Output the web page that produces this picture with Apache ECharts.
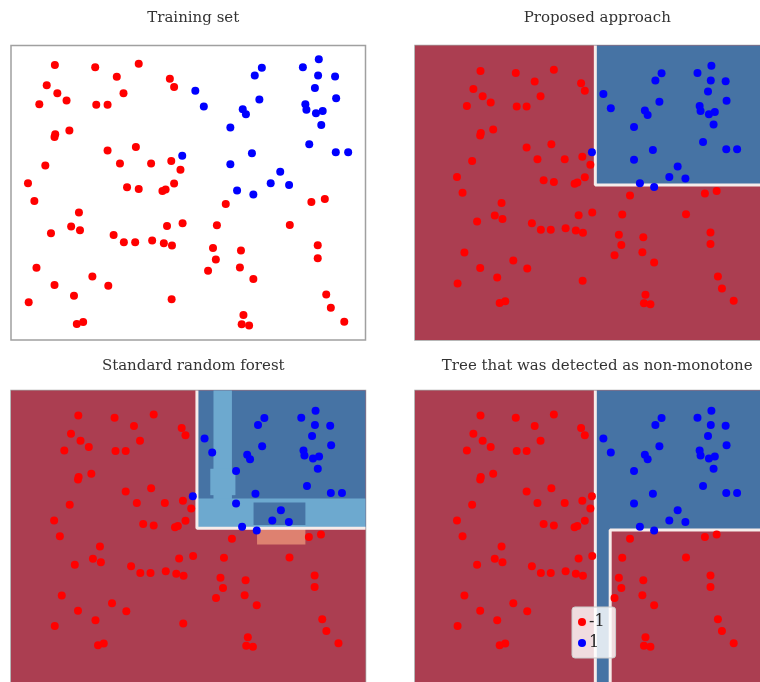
<!DOCTYPE html>
<html>
<head>
<meta charset="utf-8">
<script src="https://cdn.jsdelivr.net/npm/echarts@6/dist/echarts.min.js"></script>
<style>
  html, body { margin: 0; padding: 0; background: #ffffff; }
  #chart { width: 760px; height: 682px; }
</style>
</head>
<body>
<div id="chart"></div>
<script>
// Panel titles and class labels
const titles = ['Training set', 'Proposed approach', 'Standard random forest', 'Tree that was detected as non-monotone'];
const classNames = ['-1', '1'];

// Training samples of class -1
const negPoints = [
  [1.24, 9.32], [2.38, 9.24], [3.61, 9.36], [2.99, 8.92], [4.49, 8.85], [4.61, 8.57],
  [1.01, 8.63], [1.31, 8.36], [1.57, 8.12], [0.80, 7.99], [2.41, 7.97], [2.73, 7.97],
  [3.18, 8.36], [1.25, 6.97], [1.23, 6.88], [1.65, 7.10], [2.73, 6.42], [3.53, 6.54],
  [3.08, 5.98], [3.96, 5.98], [4.53, 6.07], [4.79, 5.77], [0.97, 5.91], [0.48, 5.31],
  [0.66, 4.71], [3.28, 5.18], [3.61, 5.12], [4.28, 5.05], [4.37, 5.10], [4.61, 5.30],
  [1.92, 4.32], [1.70, 3.85], [1.95, 3.72], [1.13, 3.62], [2.90, 3.56], [3.19, 3.31],
  [3.51, 3.31], [3.99, 3.37], [4.32, 3.28], [4.55, 3.20], [4.41, 3.86], [4.85, 3.96],
  [6.07, 4.61], [5.82, 3.89], [5.71, 3.12], [5.79, 2.73], [5.57, 2.35], [6.50, 3.03],
  [6.47, 2.46], [6.85, 2.07], [8.49, 4.68], [8.87, 4.78], [7.88, 3.90], [8.67, 3.21],
  [8.67, 2.77], [0.72, 2.45], [1.23, 1.86], [2.30, 2.15], [2.75, 1.84], [1.78, 1.50],
  [0.50, 1.28], [1.86, 0.54], [2.04, 0.61], [4.54, 1.38], [6.57, 0.85], [6.52, 0.53],
  [6.73, 0.49], [8.91, 1.54], [9.04, 1.09], [9.42, 0.62]
];

// Training samples of class 1
const posPoints = [
  [7.09, 9.23], [6.89, 8.96], [8.25, 9.24], [8.70, 9.51], [8.68, 8.96], [9.16, 8.93],
  [8.59, 8.54], [9.19, 8.19], [5.21, 8.45], [5.45, 7.91], [7.02, 8.15], [6.55, 7.82],
  [6.64, 7.65], [8.32, 7.99], [8.35, 7.80], [8.62, 7.68], [8.81, 7.76], [8.77, 7.29],
  [6.20, 7.20], [8.43, 6.63], [9.18, 6.36], [9.53, 6.36], [6.81, 6.33], [4.84, 6.24],
  [6.20, 5.96], [7.61, 5.70], [7.34, 5.31], [7.86, 5.25], [6.39, 5.07], [6.85, 4.93]
];

// Class-1 samples that the non-monotone tree's panel shows as -1
const treeRelabelled = [23];

// Axis extents: raw data panel and decision-surface panels
const rawExtentX = [0, 10.02];
const rawExtentY = [0, 9.98];
const surfExtentX = [-0.876, 10.27];
const surfExtentY = [-0.86, 10.28];

// Decision regions: [x0, y0, x1, y1, level]; level 0 = -1, 1 = 1, 2 = weak 1, 3 = weak -1
const proposedRegions = [
  [-0.876, -0.86, 10.27, 10.28, 0],
  [4.95, 5.00, 10.27, 10.28, 1]
];
const forestRegions = [
  [-0.876, -0.86, 10.27, 10.28, 0],
  [4.97, 5.02, 10.27, 10.28, 1],
  [5.49, 6.10, 6.07, 10.28, 2],
  [5.39, 6.28, 6.18, 7.29, 2],
  [4.97, 5.02, 10.27, 6.15, 2],
  [6.75, 5.14, 8.38, 6.00, 1],
  [6.86, 4.39, 8.38, 5.02, 3]
];
const treeRegions = [
  [-0.876, -0.86, 10.27, 10.28, 0],
  [4.95, -0.86, 10.27, 10.28, 1],
  [5.43, -0.86, 10.27, 4.95, 0]
];

// Class boundaries traced along region edges
const proposedBoundary = [[[4.95, 10.28], [4.95, 5.00], [10.27, 5.00]]];
const forestBoundary = [[[4.97, 10.28], [4.97, 5.02], [10.27, 5.02]]];
const treeBoundary = [
  [[4.95, -0.86], [4.95, 10.28]],
  [[5.43, -0.86], [5.43, 4.95], [10.27, 4.95]]
];

const levelFill = ['#ab3e51', '#4673a4', '#6da9cf', '#de8170'];
const negColor = '#ff0000';
const posColor = '#0000ff';

const chart = echarts.init(document.getElementById('chart'));

const gridBoxes = [
  { left: 11, top: 45.5, titleTop: 6 },
  { left: 415, top: 45.5, titleTop: 6 },
  { left: 11, top: 390.5, titleTop: 354 },
  { left: 415, top: 390.5, titleTop: 354 }
];
const panelW = 354.5, panelH = 294.5;

const grids = gridBoxes.map(g => ({
  left: g.left, top: g.top, width: panelW, height: panelH,
  show: true, borderColor: '#a0a0a0', borderWidth: 1.5, backgroundColor: '#ffffff',
  containLabel: false
}));

const xAxes = [], yAxes = [];
for (let i = 0; i < 4; i++) {
  const ex = i === 0 ? rawExtentX : surfExtentX;
  const ey = i === 0 ? rawExtentY : surfExtentY;
  xAxes.push({ type: 'value', gridIndex: i, min: ex[0], max: ex[1], show: false, splitLine: { show: false } });
  yAxes.push({ type: 'value', gridIndex: i, min: ey[0], max: ey[1], show: false, splitLine: { show: false } });
}

function regionSeries(idx, regions) {
  return {
    type: 'custom', xAxisIndex: idx, yAxisIndex: idx, silent: true, z: 1,
    data: regions,
    renderItem(params, api) {
      const a = api.coord([api.value(0), api.value(3)]);
      const b = api.coord([api.value(2), api.value(1)]);
      const cs = params.coordSys;
      const shape = echarts.graphic.clipRectByRect(
        { x: a[0], y: a[1], width: b[0] - a[0], height: b[1] - a[1] },
        { x: cs.x, y: cs.y, width: cs.width, height: cs.height }
      );
      if (!shape) return;
      return { type: 'rect', shape: shape, style: { fill: levelFill[regions[params.dataIndex][4]] } };
    }
  };
}

function boundarySeries(idx, lines) {
  return lines.map(pts => ({
    type: 'line', xAxisIndex: idx, yAxisIndex: idx, silent: true, z: 2,
    data: pts, symbol: 'none', animation: false,
    lineStyle: { color: '#f6ecea', width: 3 }
  }));
}

function pointSeries(idx, neg, pos) {
  return [
    { name: classNames[0], type: 'scatter', xAxisIndex: idx, yAxisIndex: idx, z: 3,
      data: neg, symbolSize: 8, itemStyle: { color: negColor, opacity: 1 } },
    { name: classNames[1], type: 'scatter', xAxisIndex: idx, yAxisIndex: idx, z: 3,
      data: pos, symbolSize: 8, itemStyle: { color: posColor, opacity: 1 } }
  ];
}

const treeNeg = negPoints.concat(treeRelabelled.map(i => posPoints[i]));
const treePos = posPoints.filter((p, i) => treeRelabelled.indexOf(i) < 0);

const series = [].concat(
  pointSeries(0, negPoints, posPoints),
  regionSeries(1, proposedRegions), boundarySeries(1, proposedBoundary), pointSeries(1, negPoints, posPoints),
  regionSeries(2, forestRegions), boundarySeries(2, forestBoundary), pointSeries(2, negPoints, posPoints),
  regionSeries(3, treeRegions), boundarySeries(3, treeBoundary), pointSeries(3, treeNeg, treePos)
);

const titleStyle = { fontFamily: 'DejaVu Serif', fontSize: 15, fontWeight: 'normal', color: '#333333' };
const titleOpts = titles.map((t, i) => ({
  text: t,
  left: gridBoxes[i].left + panelW / 2,
  top: gridBoxes[i].titleTop,
  textAlign: 'center',
  textStyle: titleStyle
}));

chart.setOption({
  animation: false,
  title: titleOpts,
  grid: grids,
  xAxis: xAxes,
  yAxis: yAxes,
  legend: {
    orient: 'vertical', left: 572, top: 607,
    data: classNames, icon: 'circle', itemWidth: 8, itemHeight: 8, itemGap: 5,
    backgroundColor: 'rgba(255,255,255,0.82)', borderColor: '#cccccc', borderWidth: 1, borderRadius: 3,
    padding: [7, 11, 7, 6], selectedMode: false,
    textStyle: { fontFamily: 'DejaVu Serif', fontSize: 16, color: '#222222', padding: [0, 0, 0, -2] }
  },
  series: series
});
</script>
</body>
</html>
